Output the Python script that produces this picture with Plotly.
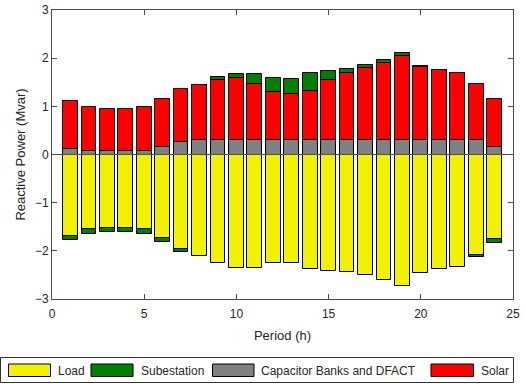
import plotly.graph_objects as go

# Hourly reactive power balance (Mvar)
hours = list(range(1, 25))
load = [-1.69, -1.55, -1.525, -1.525, -1.55, -1.73, -1.96, -2.11, -2.26, -2.35, -2.35, -2.26,
        -2.26, -2.37, -2.42, -2.44, -2.51, -2.61, -2.72, -2.46, -2.37, -2.33, -2.08, -1.76]
substation = [-0.08, -0.11, -0.085, -0.085, -0.11, -0.09, -0.06, 0.0, 0.06, 0.09, 0.20, 0.29,
              0.32, 0.37, 0.18, 0.07, 0.07, 0.07, 0.07, 0.02, 0.0, 0.0, -0.05, -0.08]
capacitor = [0.12, 0.08, 0.08, 0.08, 0.08, 0.15, 0.25, 0.30, 0.30, 0.30, 0.30, 0.30,
             0.30, 0.30, 0.30, 0.30, 0.30, 0.30, 0.30, 0.30, 0.30, 0.30, 0.30, 0.15]
solar = [1.00, 0.905, 0.865, 0.865, 0.905, 0.995, 1.11, 1.15, 1.24, 1.28, 1.17, 0.99,
         0.95, 1.02, 1.25, 1.40, 1.49, 1.60, 1.74, 1.52, 1.45, 1.39, 1.16, 1.01]

series_names = ["Load", "Subestation", "Capacitor Banks and DFACT", "Solar"]
colors = {"Load": "#f2f200", "Subestation": "#008000",
          "Capacitor Banks and DFACT": "#808080", "Solar": "#ff0000"}
values = {"Load": load, "Subestation": substation,
          "Capacitor Banks and DFACT": capacitor, "Solar": solar}

FONT = "Liberation Sans, Arial, Helvetica, sans-serif"
AX = "#4d4d4d"
TXT = "#262626"

W, H = 526, 384
ML, MR, MT, MB = 52, 13, 10, 85

fig = go.Figure()
# stacking order: capacitor at the base, solar above, substation on top (or below load)
for name in ["Load", "Capacitor Banks and DFACT", "Solar", "Subestation"]:
    fig.add_trace(go.Bar(
        x=hours, y=values[name], name=name, width=0.8,
        marker=dict(color=colors[name], line=dict(color="black", width=1)),
        showlegend=False,
    ))

axis_common = dict(
    showgrid=False, zeroline=False, showline=True, linecolor=AX, linewidth=1,
    mirror="ticks", ticks="inside", ticklen=5, tickcolor=AX, tickwidth=1,
    automargin=False,
    tickfont=dict(family=FONT, size=12, color=TXT),
)

fig.update_layout(
    template="none",
    width=W, height=H,
    margin=dict(l=ML, r=MR, t=MT, b=MB),
    paper_bgcolor="white", plot_bgcolor="white",
    barmode="relative", bargap=0,
    xaxis=dict(range=[0, 25], tickvals=[0, 5, 10, 15, 20, 25], ticklabelstandoff=4, **axis_common,
               title=dict(text="Period (h)", font=dict(family=FONT, size=13, color=TXT), standoff=10)),
    yaxis=dict(range=[-3, 3], tickvals=[-3, -2, -1, 0, 1, 2, 3], **axis_common,
               title=dict(text="Reactive Power (Mvar)", font=dict(family=FONT, size=13, color=TXT), standoff=6)),
    font=dict(family=FONT, color=TXT),
)

# horizontal baseline at zero drawn over the bars
fig.add_shape(type="line", xref="paper", yref="y", x0=0, x1=1, y0=0, y1=0,
              line=dict(color=AX, width=1), layer="above")

# legend panel below the axes
pw = W - ML - MR
ph = H - MT - MB


def px_x(v):
    return (v - ML) / pw


def px_y(v):
    return (H - MB - v) / ph


fig.add_shape(type="rect", xref="paper", yref="paper",
              x0=px_x(0.5), x1=px_x(513.5), y0=px_y(382.5), y1=px_y(357.5),
              line=dict(color="#333333", width=1), fillcolor="white")

legend_items = [
    ("Load", 8.5, 50.5, 56),
    ("Subestation", 91, 133, 139),
    ("Capacitor Banks and DFACT", 212.5, 254, 258.5),
    ("Solar", 431, 473.5, 478.5),
]
for name, sx0, sx1, tx in legend_items:
    fig.add_shape(type="rect", xref="paper", yref="paper",
                  x0=px_x(sx0), x1=px_x(sx1), y0=px_y(376.5), y1=px_y(364),
                  line=dict(color="black", width=1), fillcolor=colors[name])
    fig.add_annotation(text=name, xref="paper", yref="paper", x=px_x(tx), y=px_y(370.5),
                       xanchor="left", yanchor="middle", showarrow=False,
                       font=dict(family=FONT, size=12, color=TXT))

fig.write_html("out.html")
